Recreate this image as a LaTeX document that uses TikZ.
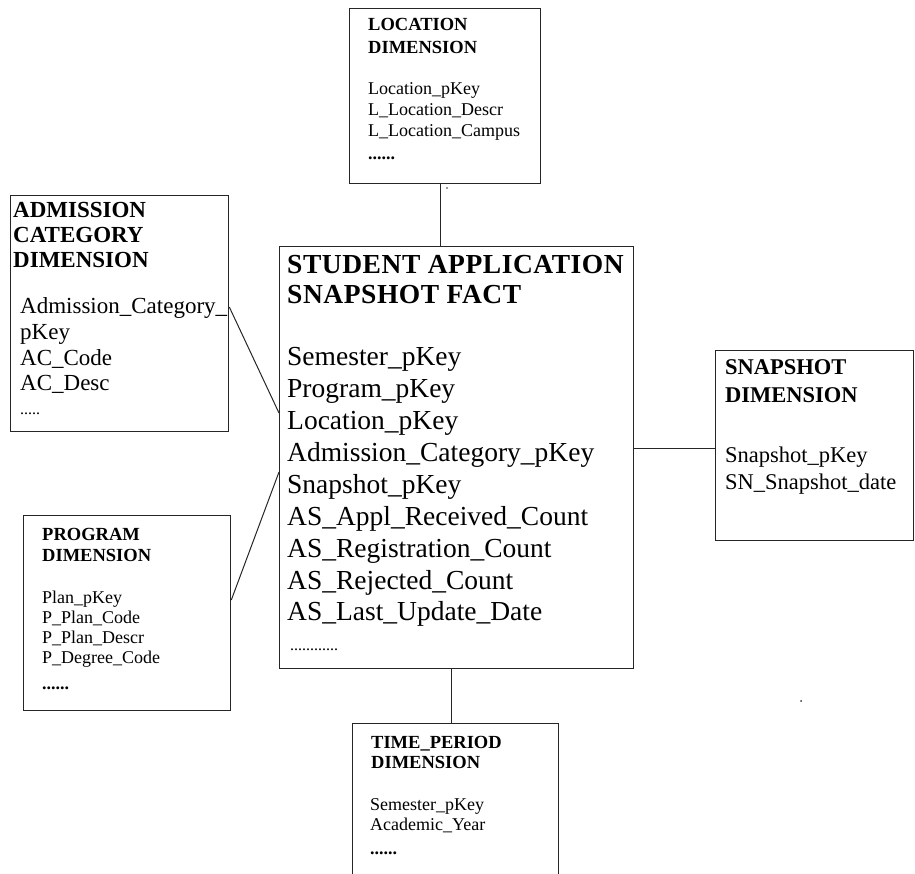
\documentclass[tikz,border=0pt]{standalone}
\usepackage{fontspec}
\setmainfont{Liberation Serif}
\newfontfamily\spacedserif[LetterSpace=2]{Liberation Serif}
\usetikzlibrary{calc}
\begin{document}
\begin{tikzpicture}[x=1pt,y=-1pt,
  box/.style={draw=black!85, line width=1.3pt, rectangle, inner sep=0pt, anchor=north west},
  link/.style={draw=black!85, line width=1pt},
  txt/.style={anchor=base west, inner sep=0pt, text=black},
  smalltitle/.style={txt, font=\fontsize{18.5}{23}\selectfont\bfseries},
  smallfield/.style={txt, font=\fontsize{18}{21}\selectfont},
  midtitle/.style={txt, font=\fontsize{22.5}{27}\selectfont\bfseries},
  midfield/.style={txt, font=\fontsize{22.5}{27}\selectfont},
  bigtitle/.style={txt, font=\spacedserif\fontsize{27.5}{30}\selectfont\bfseries},
  bigfield/.style={txt, font=\fontsize{27.5}{32}\selectfont}]
\useasboundingbox (0,0) rectangle (915,874);
\clip (0,0) rectangle (915,874);

% table frames
\node[box, minimum width=191pt, minimum height=175pt] (loc)  at (349,8)   {};
\node[box, minimum width=218pt, minimum height=236pt] (adm)  at (10,195)  {};
\node[box, minimum width=354pt, minimum height=422pt] (fact) at (279,246) {};
\node[box, minimum width=198pt, minimum height=190pt] (snap) at (715,350) {};
\node[box, minimum width=207pt, minimum height=195pt] (prog) at (23,515)  {};
\node[box, minimum width=206pt, minimum height=177pt] (time) at (352,723) {};

% links between the fact table and its dimensions
\draw[link] ($(loc.south west)+(91,0)$) -- ($(fact.north west)+(161,0)$);
\draw[link] ($(adm.north east)+(0,112)$) -- ($(fact.north west)+(0,167)$);
\draw[link] ($(prog.north east)+(0,85)$) -- ($(fact.north west)+(0,226)$);
\draw[link] ($(fact.north east)+(0,202)$) -- ($(snap.north west)+(0,98)$);
\draw[link] ($(fact.south west)+(172,0)$) -- ($(time.north west)+(99,0)$);

% location dimension
\foreach \t/\yy [count=\i] in {LOCATION/31, DIMENSION/54}
  \node[smalltitle, name=loct\i] at (368,\yy) {\t};
\foreach \t/\yy [count=\i] in {Location\_pKey/95, L\_Location\_Descr/116, L\_Location\_Campus/137}
  \node[smallfield, name=locf\i] at (368,\yy) {\t};
\node[smallfield, name=locdots] at (368,160) {\textbf{......}};

% admission category dimension
\foreach \t/\yy [count=\i] in {ADMISSION/218, CATEGORY/243, DIMENSION/268}
  \node[txt, font=\fontsize{23}{25}\selectfont\bfseries, name=admt\i] at (13,\yy) {\t};
\foreach \t/\yy [count=\i] in {Admission\_Category\_/314, pKey/339, AC\_Code/365, AC\_Desc/390}
  \node[txt, font=\fontsize{23}{25}\selectfont, name=admf\i] at (20,\yy) {\t};
\node[txt, font=\fontsize{16}{20}\selectfont, name=admdots] at (20,414) {.....};

% fact table
\foreach \t/\yy [count=\i] in {STUDENT APPLICATION/274, SNAPSHOT FACT/304}
  \node[bigtitle, name=factt\i] at (287,\yy) {\t};
\foreach \t/\yy [count=\i] in {Semester\_pKey/365, Program\_pKey/397, Location\_pKey/429,
    Admission\_Category\_pKey/461, Snapshot\_pKey/493, AS\_Appl\_Received\_Count/525,
    AS\_Registration\_Count/557, AS\_Rejected\_Count/589, AS\_Last\_Update\_Date/620}
  \node[bigfield, name=factf\i] at (287,\yy) {\t};
\node[txt, font=\fontsize{16}{20}\selectfont, name=factdots] at (290,650) {............};

% snapshot dimension
\foreach \t/\yy [count=\i] in {SNAPSHOT/374, DIMENSION/402}
  \node[midtitle, name=snapt\i] at (725,\yy) {\t};
\foreach \t/\yy [count=\i] in {Snapshot\_pKey/462, SN\_Snapshot\_date/489}
  \node[midfield, name=snapf\i] at (725,\yy) {\t};

% program dimension
\foreach \t/\yy [count=\i] in {PROGRAM/540, DIMENSION/561}
  \node[smalltitle, name=progt\i] at (42,\yy) {\t};
\foreach \t/\yy [count=\i] in {Plan\_pKey/603, P\_Plan\_Code/623, P\_Plan\_Descr/643, P\_Degree\_Code/663}
  \node[smallfield, name=progf\i] at (42,\yy) {\t};
\node[smallfield, name=progdots] at (42,689) {\textbf{......}};

% time period dimension
\foreach \t/\yy [count=\i] in {TIME\_PERIOD/748, DIMENSION/768}
  \node[smalltitle, name=timet\i] at (371,\yy) {\t};
\foreach \t/\yy [count=\i] in {Semester\_pKey/810, Academic\_Year/830}
  \node[smallfield, name=timef\i] at (370,\yy) {\t};
\node[smallfield, name=timedots] at (370,854) {\textbf{......}};

% stray specks
\fill[black!80] (447,188) circle (0.8);
\fill[black!80] (801,701) circle (1);
\end{tikzpicture}
\end{document}
